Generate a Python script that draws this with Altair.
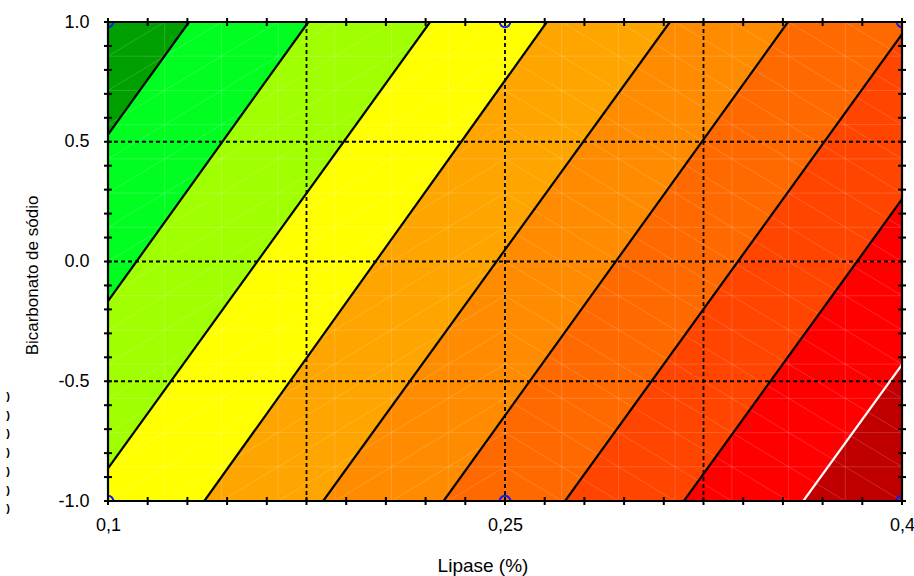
import altair as alt
import pandas as pd

FONT = "Liberation Sans"

# Design space
x_domain = [0.1, 0.4]
y_domain = [-1.0, 1.0]

# Contour lines of the fitted response surface: lipase value where each line
# meets the top edge (bicarbonate = +1) and the bottom edge (bicarbonate = -1)
line_x_top = [0.1306, 0.1757, 0.2217, 0.2658, 0.3123, 0.3569, 0.4033, 0.4484, 0.4937]
line_x_bottom = [0.0005, 0.0458, 0.0911, 0.1364, 0.1813, 0.2268, 0.2727, 0.3176, 0.3627]
line_colors = ["black"] * 8 + ["white"]

# Fill of each band, from the lowest response (left) to the highest (right)
band_colors = ["#00A000", "#00FF20", "#A0FF00", "#FFFF00", "#FFA500",
               "#FF8C00", "#FF6A00", "#FF4500", "#FF0000", "#C00000"]

# Experimental design points
design_x = [0.1, 0.25, 0.4, 0.1, 0.25, 0.4]
design_y = [1.0, 1.0, 1.0, -1.0, -1.0, -1.0]

# Axis ticks, labels and reference grid
x_ticks = [0.1, 0.115, 0.13, 0.145, 0.16, 0.175, 0.19, 0.205, 0.22, 0.235, 0.25,
           0.265, 0.28, 0.295, 0.31, 0.325, 0.34, 0.355, 0.37, 0.385, 0.4]
y_ticks = [-1.0, -0.9, -0.8, -0.7, -0.6, -0.5, -0.4, -0.3, -0.2, -0.1, 0.0,
           0.1, 0.2, 0.3, 0.4, 0.5, 0.6, 0.7, 0.8, 0.9, 1.0]
x_label_values = [0.1, 0.25, 0.4]
y_label_values = [-1.0, -0.5, 0.0, 0.5, 1.0]
x_grid = [0.175, 0.25, 0.325]
y_grid = [-0.5, 0.0, 0.5]

# Triangulation mesh of the surface (cells per side)
mesh_cells = 14

W, H = 794, 479

# ---------------------------------------------------------------- tables
band_rows = []
far_left, far_right = -1.0, 1.5
for b in range(len(band_colors)):
    for y, xs in ((-1.0, line_x_bottom), (1.0, line_x_top)):
        xl = far_left if b == 0 else xs[b - 1]
        xr = far_right if b == len(band_colors) - 1 else xs[b]
        band_rows.append({"band": b, "y": y, "xl": xl, "xr": xr})
bands = pd.DataFrame(band_rows)

line_rows = []
for k in range(len(line_x_top)):
    line_rows.append({"k": k, "x": line_x_bottom[k], "y": -1.0, "c": line_colors[k]})
    line_rows.append({"k": k, "x": line_x_top[k], "y": 1.0, "c": line_colors[k]})
lines = pd.DataFrame(line_rows)

def to_x(u):
    return x_domain[0] + u * (x_domain[1] - x_domain[0]) / mesh_cells

def to_y(v):
    return y_domain[0] + v * (y_domain[1] - y_domain[0]) / mesh_cells

n = mesh_cells
half = n // 2
mesh_rows = []
for i in range(1, n):
    mesh_rows.append({"x": to_x(i), "x2": to_x(i), "y": to_y(0), "y2": to_y(n)})
    mesh_rows.append({"x": to_x(0), "x2": to_x(n), "y": to_y(i), "y2": to_y(i)})
for c in range(-n, n + 1):
    # rising diagonals on the left half
    u0, u1 = max(0, -c), min(half, n - c)
    if u0 < u1:
        mesh_rows.append({"x": to_x(u0), "x2": to_x(u1), "y": to_y(u0 + c), "y2": to_y(u1 + c)})
for c in range(0, 2 * n + 1):
    # falling diagonals on the right half
    u0, u1 = max(half, c - n), min(n, c)
    if u0 < u1:
        mesh_rows.append({"x": to_x(u0), "x2": to_x(u1), "y": to_y(c - u0), "y2": to_y(c - u1)})
mesh = pd.DataFrame(mesh_rows)

points = pd.DataFrame({"x": design_x, "y": design_y})
xt = pd.DataFrame({"x": x_ticks})
yt = pd.DataFrame({"y": y_ticks})
xg = pd.DataFrame({"x": x_grid})
yg = pd.DataFrame({"y": y_grid})

# ---------------------------------------------------------------- scales / axes
xscale = alt.Scale(domain=x_domain, nice=False, zero=False)
yscale = alt.Scale(domain=y_domain, nice=False, zero=False)

xaxis = alt.Axis(
    values=x_label_values,
    labelExpr="replace(format(datum.value, '.2~f'), '.', ',')",
    ticks=False, tickSize=0, domain=False, grid=False,
    labelFont=FONT, labelFontSize=18, labelColor="black", labelPadding=15,
    labelFlush=False, labelOverlap=False,
    title="Lipase (%)", titleFont=FONT, titleFontSize=19, titleFontWeight="normal",
    titleColor="black", titleX=374.5, titleY=70, titleBaseline="alphabetic",
    titleAlign="center",
)
yaxis = alt.Axis(
    values=y_label_values,
    labelExpr="datum.value < 0 ? '-' + format(-datum.value, '.1f') : format(datum.value, '.1f')",
    ticks=False, tickSize=0, domain=False, grid=False,
    labelFont=FONT, labelFontSize=18, labelColor="black", labelPadding=19,
    labelFlush=False, labelOverlap=False,
    title="Bicarbonato de sódio", titleFont=FONT, titleFontSize=17,
    titleFontWeight="normal", titleColor="black", titleX=-71, titleY=253,
    titleAngle=270, titleBaseline="alphabetic", titleAlign="center",
)

def X(field):
    return alt.X(field, type="quantitative", scale=xscale, axis=xaxis)

def Y(field):
    return alt.Y(field, type="quantitative", scale=yscale, axis=yaxis)

# ---------------------------------------------------------------- layers
band_layer = alt.Chart(bands).mark_area(orient="horizontal", clip=True).encode(
    y=Y("y"), x=X("xl"), x2=alt.X2("xr"),
    color=alt.Color("band:O", scale=alt.Scale(domain=list(range(len(band_colors))),
                                               range=band_colors), legend=None),
    detail="band:O",
)

mesh_layer = alt.Chart(mesh).mark_rule(color="white", opacity=0.16, strokeWidth=1).encode(
    x=X("x"), x2=alt.X2("x2"), y=Y("y"), y2=alt.Y2("y2"),
)

contour_layer = alt.Chart(lines).mark_line(clip=True, strokeWidth=2.2).encode(
    x=X("x"), y=Y("y"), detail="k:O", color=alt.Color("c:N", scale=None),
)

grid_x_layer = alt.Chart(xg).mark_rule(color="black", strokeWidth=1.8, strokeDash=[4, 3]).encode(
    x=X("x"),
)
grid_y_layer = alt.Chart(yg).mark_rule(color="black", strokeWidth=1.8, strokeDash=[4, 3]).encode(
    y=Y("y"),
)

point_layer = alt.Chart(points).mark_point(
    shape="circle", filled=False, clip=True, size=110, strokeWidth=2,
    color="#0020FF", opacity=1
).encode(x=X("x"), y=Y("y"))

tick_style = dict(color="black", strokeWidth=2)
tick_bottom = alt.Chart(xt).mark_rule(**tick_style).encode(
    x=X("x"), y=alt.value(H - 4), y2=alt.value(H + 4))
tick_top = alt.Chart(xt).mark_rule(**tick_style).encode(
    x=X("x"), y=alt.value(-4), y2=alt.value(4))
tick_left = alt.Chart(yt).mark_rule(**tick_style).encode(
    y=Y("y"), x=alt.value(-4), x2=alt.value(4))
tick_right = alt.Chart(yt).mark_rule(**tick_style).encode(
    y=Y("y"), x=alt.value(W - 4), x2=alt.value(W + 4))

frame = alt.Chart(pd.DataFrame({"f": [0]})).mark_rect(
    filled=False, stroke="black", strokeWidth=2.2
).encode(x=alt.value(0), x2=alt.value(W), y=alt.value(0), y2=alt.value(H))

side_marks = alt.Chart(pd.DataFrame({"f": [0]})).mark_text(
    text=[")"] * 7, lineHeight=18.7, baseline="top", align="center",
    fontSize=11, fontWeight="bold", font=FONT, color="black",
).encode(x=alt.value(-100), y=alt.value(369))

chart = alt.layer(
    band_layer, mesh_layer, contour_layer, grid_x_layer, grid_y_layer,
    point_layer, tick_bottom, tick_top, tick_left, tick_right, frame, side_marks,
).properties(
    width=W, height=H,
    autosize=alt.AutoSizeParams(type="none"),
    padding={"left": 108, "top": 22, "right": 12, "bottom": 75},
    background="white",
).configure_view(stroke=None)

chart.save("out.html", embed_options={"renderer": "svg", "actions": False})
